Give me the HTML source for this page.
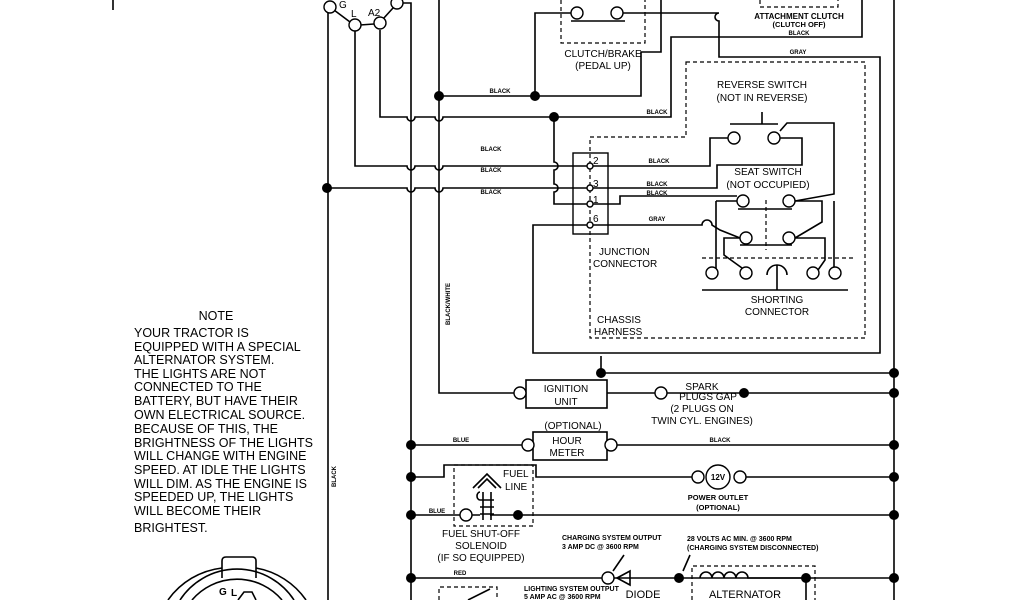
<!DOCTYPE html>
<html><head><meta charset="utf-8"><style>
html,body{margin:0;padding:0;background:#fff;width:1024px;height:600px;overflow:hidden}
svg{display:block}
text{font-family:"Liberation Sans",sans-serif;fill:#000}
.s{font-size:6px;font-weight:bold}
.m{font-size:10px}
.n{font-size:12.5px}
</style></head><body>
<svg width="1024" height="600" viewBox="0 0 1024 600" xmlns="http://www.w3.org/2000/svg">
<g fill="none" stroke="#000" stroke-width="1.6">
<path d="M113 0V10"/>
<path d="M328 13V600"/>
<path d="M334 10L350 22M360 25L374 24M383 19L393 8"/>
<path d="M355 31V166H407a4 4 0 0 0 8 0H435a4 4 0 0 0 8 0H590"/>
<path d="M380 30V117H407a4 4 0 0 0 8 0H435a4 4 0 0 0 8 0H554"/>
<path d="M328 188H407a4 4 0 0 0 8 0H435a4 4 0 0 0 8 0H590"/>
<path d="M402 3H411V600"/>
<path d="M439 0V393H518"/>
<path d="M439 96H535"/>
<path d="M535 96V13H571M623 13H719a4 4 0 0 0 0 8V57H880V353H533V225H590"/>
<path d="M571 21H625"/>
<path d="M535 96H641V52H661V0"/>
<path d="M554 117H671V37H862V0"/>
<path d="M554 117V162a4 4 0 0 1 0 8V184a4 4 0 0 1 0 8V204H590"/>
<path d="M590 166H710V138H728"/>
<path d="M590 188H717V165H802V138H780"/>
<path d="M590 204H620V196H737"/>
<path d="M590 225H702a5 5 0 0 1 10 0L720 230 740 238"/>
<path d="M894 0V600"/>
<path d="M762 112V124M730 124H778M780 131L787 123H834V194L795 201"/>
<path d="M738 209H792M740 245H792"/>
<path d="M716 201H737M716 201V270M795 238L822 222V201H795M795 238L825 238V260L818 270"/>
<path d="M740 238H724V255L742 268"/>
<path d="M834 201V268"/>
<path d="M777 290V265M767 275a10 10 0 0 1 20 0"/>
<path d="M702 290H848"/>
<path d="M601 373H894"/>
<path d="M601 373V356"/>
<rect x="526" y="380" width="81" height="28"/>
<path d="M524 393H526M607 393H655M667 393H894"/>
<path d="M411 445H522M617 445H894"/>
<rect x="533" y="432" width="74" height="28"/>
<path d="M411 477H444V465H536V477H692M746 477H894"/>
<path d="M411 515H460M472 515H480M490 515H894"/>
<path d="M411 578H602M614 578H894"/>
<path d="M700 578a6 6 0 0 1 12 0a6 6 0 0 1 12 0a6 6 0 0 1 12 0a6 6 0 0 1 12 0H806V600"/>
<path d="M617 578L630 571V585ZM630 571V585"/>
<path d="M624 555L613 571M690 555L683 571"/>
<path d="M468 600L490 589"/>
<path d="M480 500h14M480 507h14M480 514h14M483 492V520M491 492V520M480 500a3 4 0 0 1 0-8"/>
<path d="M473 488L487 474L501 488M478 488L487 479L496 488"/>
<path d="M168 600A77 77 0 0 1 222 568M256 568A77 77 0 0 1 306 600"/>
<path d="M180 600A68 68 0 0 1 294 600"/>
<path d="M192 600A59 59 0 0 1 282 600"/>
<path d="M222 578V561Q222 557 226 557H252Q256 557 256 561V578"/>
<path d="M238 600L244 592H252L256 600"/>
</g>
<g fill="none" stroke="#000" stroke-width="1.2" stroke-dasharray="4 3">
<path d="M561 0V43H645V0"/>
<path d="M760 0V7H838V0"/>
<path d="M686 62H865V338H590V137H686Z"/>
<path d="M766 200V250"/>
<path d="M702 258H854"/>
<path d="M454 465H533V526H454Z"/>
<path d="M692 600V566H815V600"/>
<path d="M439 600V587H497V600"/>
</g>
<g fill="#fff" stroke="#000" stroke-width="1.4">
<circle cx="330" cy="7" r="6"/><circle cx="355" cy="25" r="6"/><circle cx="380" cy="23" r="6"/><circle cx="397" cy="3" r="6"/>
<circle cx="577" cy="13" r="6"/><circle cx="617" cy="13" r="6"/>
<circle cx="734" cy="138" r="6"/><circle cx="774" cy="138" r="6"/>
<circle cx="743" cy="201" r="6"/><circle cx="789" cy="201" r="6"/>
<circle cx="746" cy="238" r="6"/><circle cx="789" cy="238" r="6"/>
<circle cx="712" cy="273" r="6"/><circle cx="746" cy="273" r="6"/><circle cx="813" cy="273" r="6"/><circle cx="835" cy="273" r="6"/>
<circle cx="590" cy="166" r="3"/><circle cx="590" cy="188" r="3"/><circle cx="590" cy="204" r="3"/><circle cx="590" cy="225" r="3"/>
<circle cx="520" cy="393" r="6"/><circle cx="661" cy="393" r="6"/>
<circle cx="528" cy="445" r="6"/><circle cx="611" cy="445" r="6"/>
<circle cx="698" cy="477" r="6"/><circle cx="740" cy="477" r="6"/><circle cx="718" cy="477" r="12"/>
<circle cx="466" cy="515" r="6"/><circle cx="608" cy="578" r="6"/>
</g>
<rect x="573" y="153" width="35" height="81" fill="none" stroke="#000" stroke-width="1.4"/>
<g fill="#000">
<circle cx="327" cy="188" r="5"/><circle cx="439" cy="96" r="5"/><circle cx="535" cy="96" r="5"/><circle cx="554" cy="117" r="5"/>
<circle cx="601" cy="373" r="5"/><circle cx="744" cy="393" r="5"/><circle cx="518" cy="515" r="5"/><circle cx="679" cy="578" r="5"/><circle cx="806" cy="578" r="5"/>
<circle cx="411" cy="445" r="5"/><circle cx="411" cy="477" r="5"/><circle cx="411" cy="515" r="5"/><circle cx="411" cy="578" r="5"/>
<circle cx="894" cy="373" r="5"/><circle cx="894" cy="393" r="5"/><circle cx="894" cy="445" r="5"/><circle cx="894" cy="477" r="5"/><circle cx="894" cy="515" r="5"/><circle cx="894" cy="578" r="5"/>
</g>
<g>
<text x="339" y="8" class="m">G</text><text x="351" y="17" class="m">L</text><text x="368" y="16" class="m">A2</text>
<text x="603" y="57" class="m" text-anchor="middle">CLUTCH/BRAKE</text>
<text x="603" y="69" class="m" text-anchor="middle">(PEDAL UP)</text>
<text x="799" y="19" class="s" style="font-size:8px" text-anchor="middle">ATTACHMENT CLUTCH</text>
<text x="799" y="27" class="s" style="font-size:7.5px" text-anchor="middle">(CLUTCH OFF)</text>
<text x="799" y="35" class="s" text-anchor="middle">BLACK</text>
<text x="798" y="54" class="s" text-anchor="middle">GRAY</text>
<text x="500" y="93" class="s" text-anchor="middle">BLACK</text>
<text x="657" y="114" class="s" text-anchor="middle">BLACK</text>
<text x="491" y="151" class="s" text-anchor="middle">BLACK</text>
<text x="491" y="172" class="s" text-anchor="middle">BLACK</text>
<text x="491" y="194" class="s" text-anchor="middle">BLACK</text>
<text x="659" y="163" class="s" text-anchor="middle">BLACK</text>
<text x="657" y="186" class="s" text-anchor="middle">BLACK</text>
<text x="657" y="195" class="s" text-anchor="middle">BLACK</text>
<text x="657" y="221" class="s" text-anchor="middle">GRAY</text>
<text x="593" y="164" class="m">2</text><text x="593" y="187" class="m">3</text><text x="593" y="203" class="m">1</text><text x="593" y="222" class="m">6</text>
<text x="762" y="88" class="m" text-anchor="middle">REVERSE SWITCH</text>
<text x="762" y="101" class="m" text-anchor="middle">(NOT IN REVERSE)</text>
<text x="768" y="175" class="m" text-anchor="middle">SEAT SWITCH</text>
<text x="768" y="188" class="m" text-anchor="middle">(NOT OCCUPIED)</text>
<text x="777" y="303" class="m" text-anchor="middle">SHORTING</text>
<text x="777" y="315" class="m" text-anchor="middle">CONNECTOR</text>
<text x="599" y="255" class="m">JUNCTION</text>
<text x="593" y="267" class="m">CONNECTOR</text>
<text x="597" y="323" class="m">CHASSIS</text>
<text x="594" y="335" class="m">HARNESS</text>
<text transform="translate(450,325) rotate(-90)" class="s">BLACK/WHITE</text>
<text transform="translate(336,487) rotate(-90)" class="s">BLACK</text>
<text x="216" y="320" class="n" text-anchor="middle">NOTE</text>
<g class="n">
<text x="134" y="337">YOUR TRACTOR IS</text>
<text x="134" y="351">EQUIPPED WITH A SPECIAL</text>
<text x="134" y="364">ALTERNATOR SYSTEM.</text>
<text x="134" y="378">THE LIGHTS ARE NOT</text>
<text x="134" y="391">CONNECTED TO THE</text>
<text x="134" y="405">BATTERY, BUT HAVE THEIR</text>
<text x="134" y="419">OWN ELECTRICAL SOURCE.</text>
<text x="134" y="433">BECAUSE OF THIS, THE</text>
<text x="134" y="447">BRIGHTNESS OF THE LIGHTS</text>
<text x="134" y="460">WILL CHANGE WITH ENGINE</text>
<text x="134" y="474">SPEED.  AT IDLE THE LIGHTS</text>
<text x="134" y="488">WILL DIM.  AS THE ENGINE IS</text>
<text x="134" y="501">SPEEDED UP, THE LIGHTS</text>
<text x="134" y="515">WILL BECOME THEIR</text>
<text x="134" y="532">BRIGHTEST.</text>
</g>
<text x="566" y="392" class="m" text-anchor="middle">IGNITION</text>
<text x="566" y="405" class="m" text-anchor="middle">UNIT</text>
<text x="702" y="390" class="m" text-anchor="middle">SPARK</text>
<text x="708" y="400" class="m" text-anchor="middle">PLUGS GAP</text>
<text x="702" y="412" class="m" text-anchor="middle">(2 PLUGS ON</text>
<text x="702" y="424" class="m" text-anchor="middle">TWIN CYL. ENGINES)</text>
<text x="573" y="429" class="m" text-anchor="middle">(OPTIONAL)</text>
<text x="567" y="444" class="m" text-anchor="middle">HOUR</text>
<text x="567" y="456" class="m" text-anchor="middle">METER</text>
<text x="461" y="442" class="s" text-anchor="middle">BLUE</text>
<text x="720" y="442" class="s" text-anchor="middle">BLACK</text>
<text x="718" y="480" class="s" style="font-size:8px" text-anchor="middle">12V</text>
<text x="718" y="500" class="s" style="font-size:7.5px" text-anchor="middle">POWER OUTLET</text>
<text x="718" y="510" class="s" style="font-size:7.5px" text-anchor="middle">(OPTIONAL)</text>
<text x="503" y="477" class="m">FUEL</text>
<text x="505" y="490" class="m">LINE</text>
<text x="437" y="513" class="s" text-anchor="middle">BLUE</text>
<text x="481" y="537" class="m" text-anchor="middle">FUEL SHUT-OFF</text>
<text x="481" y="549" class="m" text-anchor="middle">SOLENOID</text>
<text x="481" y="561" class="m" text-anchor="middle">(IF SO EQUIPPED)</text>
<text x="460" y="575" class="s" text-anchor="middle">RED</text>
<text x="562" y="540" class="s" style="font-size:7px">CHARGING SYSTEM OUTPUT</text>
<text x="562" y="549" class="s" style="font-size:7px">3 AMP DC @ 3600 RPM</text>
<text x="687" y="541" class="s" style="font-size:7px">28 VOLTS AC MIN. @ 3600 RPM</text>
<text x="687" y="550" class="s" style="font-size:7px">(CHARGING SYSTEM DISCONNECTED)</text>
<text x="524" y="591" class="s" style="font-size:7px">LIGHTING SYSTEM OUTPUT</text>
<text x="524" y="599" class="s" style="font-size:7px">5 AMP AC @ 3600 RPM</text>
<text x="643" y="598" class="m" style="font-size:11px" text-anchor="middle">DIODE</text>
<text x="745" y="598" class="m" style="font-size:11px" text-anchor="middle">ALTERNATOR</text>
<text x="219" y="595" class="m" font-weight="bold">G</text><text x="231" y="596" class="m" font-weight="bold">L</text>
</g>
</svg>
</body></html>
